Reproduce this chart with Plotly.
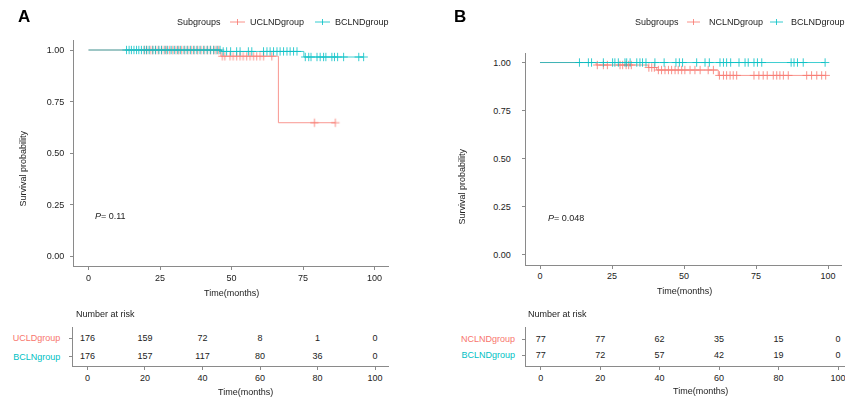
import plotly.graph_objects as go

# ---------------- data ----------------
RED = "#F8766D"
TEAL = "#00BFC4"

# Panel A : step times / survival levels / end of follow-up / censor times
a_red_name = "UCLNDgroup"
a_red_times = [0, 46.3, 66.4]
a_red_surv = [1.0, 0.97, 0.647]
a_red_end = 86.3
a_red_cens = [19.5, 20.4, 21.6, 22.4, 23.5, 24.4, 25.6, 26.5, 27.3, 28.4, 29.5, 30.6, 31.5,
              32.6, 33.7, 34.8, 36.0, 37.0, 38.2, 39.4, 40.5, 41.6, 42.7, 43.8, 44.6, 45.5,
              46.8, 47.7, 49.5, 50.6, 51.8, 53.0, 54.1, 55.3, 56.5, 57.7, 58.8, 60.0, 61.2, 64.1,
              79.0, 86.3]

a_teal_name = "BCLNDgroup"
a_teal_times = [0, 46.5, 75.3]
a_teal_surv = [1.0, 0.993, 0.966]
a_teal_end = 96.2
a_teal_cens = [13.3, 14.2, 15.0, 15.9, 16.8, 17.6, 18.5, 19.5, 20.3, 21.2, 22.5, 23.4, 24.6,
               25.5, 26.8, 27.7, 28.9, 30.0, 31.2, 32.1, 33.4, 34.5, 35.6, 36.8, 37.9, 39.0,
               40.3, 41.5, 42.6, 43.8, 45.0, 46.0,
               47.1, 48.3, 49.7, 51.8, 53.0, 55.9, 57.1, 61.2, 62.4, 63.5, 64.7, 65.9, 67.0,
               68.2, 69.4, 70.5, 71.7, 72.9,
               75.8, 77.0, 77.8, 79.9, 81.0, 82.2, 83.0, 85.1, 86.0, 87.1, 89.2, 94.5, 96.2]

# Panel B
b_red_name = "NCLNDgroup"
b_red_times = [0, 19.5, 37.6, 40.5, 61.9]
b_red_surv = [1.0, 0.987, 0.974, 0.961, 0.933]
b_red_end = 99.2
b_red_cens = [19.9, 22.0, 23.4, 27.8, 28.7, 29.9, 30.8, 31.7,
              37.8, 38.8, 39.7,
              41.1, 42.2, 43.4, 44.6, 45.7, 46.9, 48.0, 49.2, 50.3, 52.1, 53.8, 55.6, 58.4, 60.2,
              62.3, 63.7, 64.8, 66.0, 67.1, 68.3, 74.3, 76.0, 77.5, 78.9, 81.0, 82.2, 83.3,
              84.5, 86.2, 92.6, 94.3, 96.1, 97.8, 99.2]

b_teal_name = "BCLNDgroup"
b_teal_times = [0]
b_teal_surv = [1.0]
b_teal_end = 99.0
b_teal_cens = [13.7, 16.8, 17.9, 22.0, 25.2, 26.0, 27.2, 29.5, 30.1, 31.3, 33.6, 34.7, 35.6,
               36.8, 39.9, 43.1, 47.2, 48.4, 49.5, 54.4, 57.3, 58.8, 62.5, 63.7, 64.8, 66.2,
               69.1, 71.2, 72.3, 74.3, 75.5, 77.0, 87.2, 88.2, 89.4, 91.4, 99.0]

# Risk tables
risk_times = [0, 20, 40, 60, 80, 100]
a_risk_labels = ["UCLDgroup", "BCLNgroup"]
a_risk_red = [176, 159, 72, 8, 1, 0]
a_risk_teal = [176, 157, 117, 80, 36, 0]
b_risk_labels = ["NCLNDgroup", "BCLNDgroup"]
b_risk_red = [77, 77, 62, 35, 15, 0]
b_risk_teal = [77, 72, 57, 42, 19, 0]

main_ticks_x = [0, 25, 50, 75, 100]
main_ticks_y = [0, 0.25, 0.5, 0.75, 1.0]
main_tick_text_y = ["0.00", "0.25", "0.50", "0.75", "1.00"]
legend_title = "Subgroups"
p_a = "0.11"
p_b = "0.048"

# ---------------- figure ----------------
W, H = 845, 403
FONT = "Liberation Sans, Arial, sans-serif"
TXT = "#222222"
AX = "#8a8a8a"


def px_x(p):
    return p / W


def px_y(p):
    return 1 - p / H


def surv_at(t, times, surv):
    s = surv[0]
    for tt, ss in zip(times, surv):
        if tt <= t:
            s = ss
    return s


fig = go.Figure()


def add_km(times, surv, end, cens, color, name, xa, ya):
    xs = list(times) + [end]
    ys = list(surv) + [surv[-1]]
    fig.add_trace(go.Scatter(x=xs, y=ys, mode="lines", name=name,
                             line=dict(color=color, width=1, shape="hv"),
                             opacity=0.75, xaxis=xa, yaxis=ya, showlegend=False, hoverinfo="skip"))
    fig.add_trace(go.Scatter(x=cens, y=[surv_at(c, times, surv) for c in cens], mode="markers",
                             name=name,
                             marker=dict(symbol="cross-thin", size=6, line=dict(color=color, width=1)),
                             opacity=0.8, xaxis=xa, yaxis=ya, showlegend=False, hoverinfo="skip"))


add_km(a_red_times, a_red_surv, a_red_end, a_red_cens, RED, a_red_name, "x", "y")
add_km(a_teal_times, a_teal_surv, a_teal_end, a_teal_cens, TEAL, a_teal_name, "x", "y")
add_km(b_red_times, b_red_surv, b_red_end, b_red_cens, RED, b_red_name, "x2", "y2")
add_km(b_teal_times, b_teal_surv, b_teal_end, b_teal_cens, TEAL, b_teal_name, "x2", "y2")

# risk tables as text traces
for vals, row, xa, ya in [(a_risk_red, 1, "x3", "y3"), (a_risk_teal, 0, "x3", "y3"),
                          (b_risk_red, 1, "x4", "y4"), (b_risk_teal, 0, "x4", "y4")]:
    fig.add_trace(go.Scatter(x=risk_times, y=[row] * len(risk_times), mode="text",
                             text=[str(v) for v in vals], textposition="middle center",
                             textfont=dict(family=FONT, size=9, color=TXT),
                             xaxis=xa, yaxis=ya, showlegend=False, hoverinfo="skip"))

tickfont = dict(family=FONT, size=9, color=TXT)
common = dict(showline=True, linecolor=AX, linewidth=1, ticks="outside", ticklen=3, tickcolor=AX,
              tickwidth=1, showgrid=False, zeroline=False, tickfont=tickfont, fixedrange=True)

layout = dict(
    width=W, height=H, margin=dict(l=0, r=0, t=0, b=0, autoexpand=False),
    paper_bgcolor="white", plot_bgcolor="white", showlegend=False,
    font=dict(family=FONT, size=9, color=TXT),
    xaxis=dict(domain=[px_x(74.2), px_x(388.8)], range=[-5, 105], anchor="y",
               tickvals=main_ticks_x, **common),
    yaxis=dict(domain=[px_y(266.3), px_y(39.7)], range=[-0.05, 1.05], anchor="x",
               tickvals=main_ticks_y, ticktext=main_tick_text_y, ticklabelstandoff=4, **common),
    xaxis2=dict(domain=[px_x(525.6), px_x(842.4)], range=[-5, 105], anchor="y2",
                tickvals=main_ticks_x, **common),
    yaxis2=dict(domain=[px_y(264.6), px_y(52.9)], range=[-0.05, 1.05], anchor="x2",
                tickvals=main_ticks_y, ticktext=main_tick_text_y, ticklabelstandoff=9, **common),
    xaxis3=dict(domain=[px_x(73.1), px_x(389.4)], range=[-5, 105], anchor="y3",
                tickvals=risk_times, **common),
    yaxis3=dict(domain=[px_y(366), px_y(327)], range=[-0.505, 1.614], anchor="x3",
                tickvals=[1, 0],
                ticktext=[f'<span style="color:{RED}">{a_risk_labels[0]}</span>',
                          f'<span style="color:{TEAL}">{a_risk_labels[1]}</span>'],
                ticklabelstandoff=7, **common),
    xaxis4=dict(domain=[px_x(525.8), 1.0], range=[-5, 102.35], anchor="y4",
                tickvals=risk_times, ticklabeloverflow="allow", **common),
    yaxis4=dict(domain=[px_y(366), px_y(327)], range=[-0.67, 1.77], anchor="x4",
                tickvals=[1, 0],
                ticktext=[f'<span style="color:{RED}">{b_risk_labels[0]}</span>',
                          f'<span style="color:{TEAL}">{b_risk_labels[1]}</span>'],
                ticklabelstandoff=5, **common),
)
fig.update_layout(**layout)


def ann(text, x, y, size=9, angle=0, xanchor="center", bold=False, color=TXT):
    fig.add_annotation(text=f"<b>{text}</b>" if bold else text, x=px_x(x), y=px_y(y),
                       xref="paper", yref="paper", showarrow=False, textangle=angle,
                       xanchor=xanchor, yanchor="middle",
                       font=dict(family=FONT, size=size, color=color))


def legend_key(x0, x1, y, color):
    fig.add_shape(type="line", xref="paper", yref="paper", x0=px_x(x0), x1=px_x(x1),
                  y0=px_y(y), y1=px_y(y), line=dict(color=color, width=1), opacity=0.8)
    xc = (x0 + x1) / 2
    fig.add_shape(type="line", xref="paper", yref="paper", x0=px_x(xc), x1=px_x(xc),
                  y0=px_y(y - 3), y1=px_y(y + 3), line=dict(color=color, width=1), opacity=0.8)


# manual legends (ggplot style, above each panel)
ann(legend_title, 175, 22, xanchor="left")
legend_key(230, 245, 22, RED)
ann(a_red_name, 248, 22, xanchor="left")
legend_key(315, 330, 22, TEAL)
ann(a_teal_name, 333, 22, xanchor="left")

ann(legend_title, 633, 22, xanchor="left")
legend_key(687, 700, 22, RED)
ann(b_red_name, 707, 22, xanchor="left")
legend_key(770, 783, 22, TEAL)
ann(b_teal_name, 789, 22, xanchor="left")

ann("A", 24, 16, size=17, bold=True, color="#000")
ann("B", 460, 16, size=17, bold=True, color="#000")
ann("Survival probability", 22.5, 169, angle=-90)
ann("Survival probability", 461.5, 186, angle=-90)
ann("Time(months)", 231.5, 293)
ann("Time(months)", 684, 291)
ann("Time(months)", 245.7, 391.7)
ann("Time(months)", 700, 390.7)
ann("Number at risk", 74, 314, xanchor="left")
ann("Number at risk", 526, 314, xanchor="left")
ann(f"<i>P</i>= {p_a}", 93, 216, xanchor="left")
ann(f"<i>P</i>= {p_b}", 546, 218, xanchor="left")

fig.write_html("out.html", config={"displayModeBar": False},
               post_script="document.body.style.margin='0px';")
